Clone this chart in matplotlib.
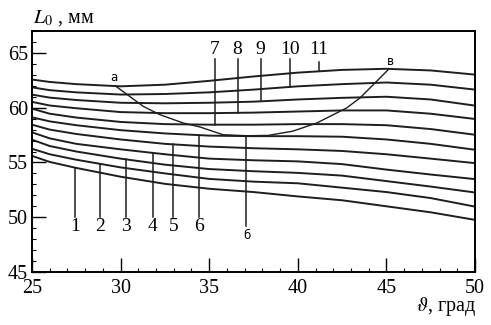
import matplotlib
matplotlib.use("Agg")
import matplotlib.pyplot as plt
import numpy as np
from matplotlib.ticker import MultipleLocator

plt.rcParams["font.family"] = "Liberation Serif"
plt.rcParams["mathtext.fontset"] = "stix"
plt.rcParams["font.size"] = 14

# angle grid, degrees
theta = [25, 26, 27.5, 30, 32.5, 35, 37.5, 40, 42.5, 45, 47.5, 50]

# L0 curves 1..11, mm
c1 = [55.6, 55.05, 54.5, 53.7, 53.05, 52.6, 52.3, 51.9, 51.55, 51.0, 50.45, 49.76]
c2 = [56.25, 55.75, 55.25, 54.55, 54.0, 53.5, 53.25, 53.1, 52.7, 52.3, 51.75, 50.97]
c3 = [57.08, 56.5, 56.0, 55.35, 54.8, 54.4, 54.2, 54.05, 53.8, 53.3, 52.8, 52.26]
c4 = [57.75, 57.2, 56.7, 56.2, 55.75, 55.35, 55.2, 55.1, 54.85, 54.35, 53.9, 53.48]
c5 = [58.45, 58.0, 57.6, 57.1, 56.7, 56.45, 56.3, 56.2, 56.05, 55.75, 55.35, 54.94]
c6 = [59.12, 58.75, 58.4, 57.95, 57.65, 57.45, 57.4, 57.4, 57.35, 57.1, 56.7, 56.16]
c7 = [59.91, 59.45, 59.1, 58.7, 58.5, 58.45, 58.45, 58.5, 58.5, 58.4, 58.05, 57.53]
c8 = [60.53, 60.2, 59.95, 59.6, 59.5, 59.5, 59.55, 59.65, 59.75, 59.75, 59.45, 58.97]
c9 = [61.19, 60.92, 60.7, 60.45, 60.4, 60.45, 60.55, 60.75, 60.9, 61.0, 60.75, 60.19]
c10 = [61.86, 61.6, 61.4, 61.2, 61.25, 61.4, 61.65, 61.95, 62.15, 62.3, 62.1, 61.65]
c11 = [62.57, 62.35, 62.15, 61.95, 62.1, 62.45, 62.85, 63.2, 63.45, 63.55, 63.4, 63.02]
curves = [c1, c2, c3, c4, c5, c6, c7, c8, c9, c10, c11]

# arc a-б-в
arc_t = [29.78, 31.28, 32.22, 33.54, 34.48, 35.78, 37.13, 38.32, 39.7, 41.07, 42.76, 43.51, 45.11]
arc_l = [61.90, 60.12, 59.36, 58.60, 58.24, 57.53, 57.44, 57.47, 57.85, 58.60, 59.98, 60.89, 63.48]

# label leader positions (theta) for curves 1..11
lead_t = [27.43, 28.84, 30.3, 31.81, 32.97, 34.45, 35.3, 36.6, 37.9, 39.56, 41.2]
lead_end = [50.05] * 6 + [64.4, 64.4, 64.4, 64.4, 64.15]
lab_y = [49.15] * 6 + [65.3] * 5

fig = plt.figure(figsize=(4.91, 3.25), dpi=100)
ax = fig.add_axes([0.0652, 0.163, 0.9022, 0.7416])

for c in curves:
    ax.plot(theta, c, color="#1e1e1e", lw=1.4)

ax.plot(arc_t, arc_l, color="#1e1e1e", lw=1.0)

for i in range(11):
    y0 = np.interp(lead_t[i], theta, curves[i])
    ax.plot([lead_t[i], lead_t[i]], [y0, lead_end[i]], color="#1e1e1e", lw=1.1)
    ax.text(lead_t[i], lab_y[i], str(i + 1), ha="center", va="center", fontsize=14)

# б leader
ax.plot([37.1, 37.1], [57.44, 49.2], color="#1e1e1e", lw=1.1)
ax.text(29.6, 62.8, "а", family="DejaVu Sans", fontsize=8.5, ha="center", va="center")
ax.text(45.24, 64.24, "в", family="DejaVu Sans", fontsize=8.5, ha="center", va="center")
ax.text(37.1, 48.3, "б", family="DejaVu Sans", fontsize=8.5, ha="center", va="center")

ax.set_xlim(25, 50)
ax.set_ylim(45, 67)
ax.xaxis.set_major_locator(MultipleLocator(5))
ax.xaxis.set_minor_locator(MultipleLocator(1))
ax.yaxis.set_major_locator(MultipleLocator(5))
ax.yaxis.set_minor_locator(MultipleLocator(1))
ax.tick_params(which="major", direction="in", length=10, width=1.0, pad=5, labelsize=14.5)
ax.tick_params(which="minor", direction="in", length=3, width=0.8)
ax.tick_params(axis="y", which="major", pad=3)
for s in ax.spines.values():
    s.set_linewidth(1.4)

fig.text(33 / 491, 1 - 23 / 325, r"$L_0$ , мм", fontsize=14.5, ha="left", va="baseline")
fig.text(476 / 491, 1 - 311 / 325, r"$\vartheta$, град", fontsize=14.5, ha="right", va="baseline")

fig.savefig("out.png", dpi=100)
